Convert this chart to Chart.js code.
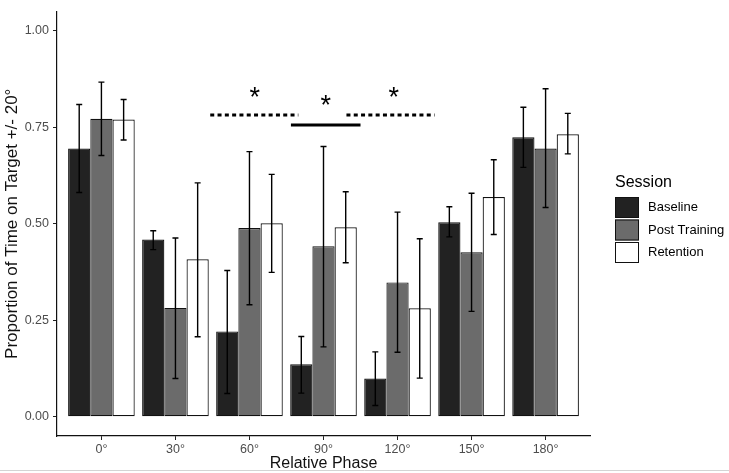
<!DOCTYPE html>
<html>
<head>
<meta charset="utf-8">
<script src="https://cdn.jsdelivr.net/npm/chart.js@4"></script>
<style>
  html, body { margin: 0; padding: 0; background: #fff; }
  #wrap { position: relative; width: 729px; height: 473px; }
</style>
</head>
<body>
<div id="wrap"><canvas id="chart" width="729" height="473"></canvas></div>
<script>
const phases = ["0°", "30°", "60°", "90°", "120°", "150°", "180°"];
const sessions = ["Baseline", "Post Training", "Retention"];

const baseline     = [0.695, 0.459, 0.221, 0.136, 0.099, 0.504, 0.724];
const baselineLow  = [0.581, 0.433, 0.060, 0.061, 0.029, 0.466, 0.646];
const baselineHigh = [0.809, 0.482, 0.379, 0.208, 0.168, 0.544, 0.802];

const postTraining = [0.772, 0.282, 0.489, 0.442, 0.348, 0.426, 0.695];
const postLow      = [0.677, 0.099, 0.290, 0.181, 0.167, 0.273, 0.542];
const postHigh     = [0.867, 0.463, 0.687, 0.700, 0.530, 0.579, 0.850];

const retention    = [0.770, 0.408, 0.501, 0.491, 0.281, 0.569, 0.732];
const retLow       = [0.717, 0.207, 0.374, 0.399, 0.100, 0.472, 0.681];
const retHigh      = [0.822, 0.606, 0.628, 0.583, 0.461, 0.666, 0.786];

const yTicks = [0, 0.25, 0.5, 0.75, 1];

// significance brackets (phase index units, proportion units)
const sigFrom   = [1.47, 2.56, 3.31];
const sigTo     = [2.66, 3.50, 4.50];
const sigY      = [0.782, 0.756, 0.782];
const sigDashed = [true, false, true];
const starX     = [2.07, 3.03, 3.95];
const starY     = [0.823, 0.800, 0.823];

const fills = ["#222222", "#6b6b6b", "#ffffff"];
const FONT = '"Liberation Sans", Arial, sans-serif';

const toPoints = (arr) => arr.map((v, i) => ({ x: i, y: v }));

const series = [
    { values: baseline, low: baselineLow, high: baselineHigh },
    { values: postTraining, low: postLow, high: postHigh },
    { values: retention, low: retLow, high: retHigh }
];

const errorBars = {
    id: "errorBars",
    afterDatasetsDraw(chart) {
        const ctx = chart.ctx;
        const y = chart.scales.y;
        ctx.save();
        ctx.strokeStyle = "#000";
        ctx.lineWidth = 1.4;
        series.forEach((s, d) => {
            chart.getDatasetMeta(d).data.forEach((bar, i) => {
                const top = y.getPixelForValue(s.high[i]);
                const bot = y.getPixelForValue(s.low[i]);
                ctx.beginPath();
                ctx.moveTo(bar.x, top); ctx.lineTo(bar.x, bot);
                ctx.moveTo(bar.x - 3, top); ctx.lineTo(bar.x + 3, top);
                ctx.moveTo(bar.x - 3, bot); ctx.lineTo(bar.x + 3, bot);
                ctx.stroke();
            });
        });
        ctx.restore();
    }
};

const extras = {
    id: "extras",
    afterDraw(chart) {
        const ctx = chart.ctx;
        const xs = chart.scales.x, ys = chart.scales.y;
        ctx.save();
        // significance lines
        ctx.strokeStyle = "#000";
        ctx.lineWidth = 3;
        sigFrom.forEach((f, i) => {
            ctx.setLineDash(sigDashed[i] ? [4, 3.3] : []);
            const py = ys.getPixelForValue(sigY[i]);
            ctx.beginPath();
            ctx.moveTo(xs.getPixelForValue(f), py);
            ctx.lineTo(xs.getPixelForValue(sigTo[i]), py);
            ctx.stroke();
        });
        ctx.setLineDash([]);
        ctx.fillStyle = "#000";
        ctx.font = "27px " + FONT;
        ctx.textAlign = "center";
        ctx.textBaseline = "middle";
        starX.forEach((sx, i) => {
            ctx.fillText("*", xs.getPixelForValue(sx), ys.getPixelForValue(starY[i]) - 1);
        });

        // legend
        ctx.textAlign = "left";
        ctx.font = "16px " + FONT;
        ctx.fillText("Session", 615, 183);
        ctx.font = "13px " + FONT;
        sessions.forEach((name, i) => {
            const ky = 197 + i * 22.5;
            ctx.fillStyle = fills[i];
            ctx.fillRect(615, ky, 24, 21);
            ctx.strokeStyle = "#111";
            ctx.lineWidth = 1;
            ctx.strokeRect(615.5, ky + 0.5, 23, 20);
            ctx.fillStyle = "#000";
            ctx.fillText(name, 648, ky + 10.5);
        });

        // thin frame line at the bottom of the picture
        ctx.strokeStyle = "#d4d4d4";
        ctx.lineWidth = 1;
        ctx.beginPath();
        ctx.moveTo(0, 470.5); ctx.lineTo(729, 470.5);
        ctx.stroke();
        ctx.restore();
    }
};

new Chart(document.getElementById("chart"), {
    type: "bar",
    data: {
        datasets: series.map((s, d) => ({
            label: sessions[d],
            data: toPoints(s.values),
            backgroundColor: fills[d],
            borderColor: "#111",
            borderWidth: 1.2,
            borderSkipped: false,
            categoryPercentage: 0.9,
            barPercentage: 1.0
        }))
    },
    options: {
        responsive: false,
        animation: false,
        devicePixelRatio: 1,
        layout: { padding: { left: 0, right: 139, top: 4, bottom: 0 } },
        plugins: { legend: { display: false }, tooltip: { enabled: false } },
        scales: {
            x: {
                type: "linear",
                min: -0.6,
                max: 6.6,
                offset: false,
                afterBuildTicks: (scale) => { scale.ticks = phases.map((p, i) => ({ value: i })); },
                afterFit: (scale) => { scale.height = 37; },
                ticks: {
                    callback: (v) => phases[v],
                    color: "#4d4d4d",
                    font: { family: FONT, size: 12.5 },
                    padding: 2,
                    maxRotation: 0
                },
                grid: { display: true, drawOnChartArea: false, offset: false, tickLength: 4, tickColor: "#222" },
                border: { display: true, color: "#111", width: 1.2 },
                title: {
                    display: true,
                    text: "Relative Phase",
                    color: "#111",
                    font: { family: FONT, size: 16 },
                    padding: { top: 0, bottom: 0 }
                }
            },
            y: {
                min: -0.05,
                max: 1.05,
                afterBuildTicks: (scale) => { scale.ticks = yTicks.map((v) => ({ value: v })); },
                afterFit: (scale) => { scale.width = 57; },
                ticks: {
                    callback: (v) => v.toFixed(2),
                    color: "#4d4d4d",
                    font: { family: FONT, size: 12.5 },
                    padding: 4
                },
                grid: { display: true, drawOnChartArea: false, tickLength: 4, tickColor: "#222" },
                border: { display: true, color: "#111", width: 1.2 },
                title: {
                    display: true,
                    text: "Proportion of Time on Target +/- 20°",
                    color: "#111",
                    font: { family: FONT, size: 17 },
                    padding: { top: 2, bottom: 0 }
                }
            }
        }
    },
    plugins: [errorBars, extras]
});
</script>
</body>
</html>
